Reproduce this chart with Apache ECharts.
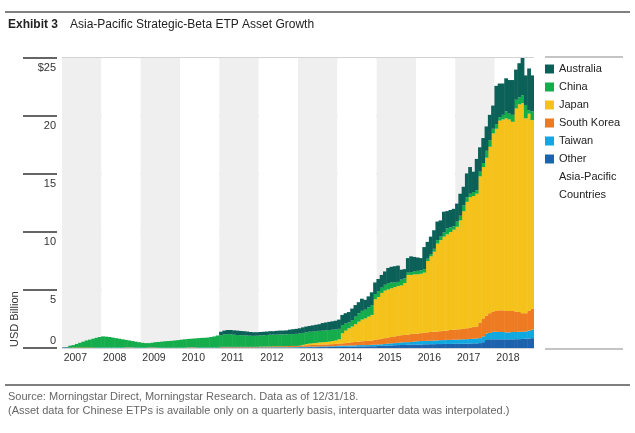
<!DOCTYPE html>
<html><head><meta charset="utf-8">
<script src="https://cdn.jsdelivr.net/npm/echarts@6/dist/echarts.min.js"></script>
<style>html,body{margin:0;padding:0;background:#fff}#c{width:635px;height:433px}</style>
</head><body><div id="c"></div>
<script>
// ---- data ----
const years = ['2007','2008','2009','2010','2011','2012','2013','2014','2015','2016','2017','2018'];
const yTickLabels = ['0','5','10','15','20','$25'];
const legendOrder = ['Australia','China','Japan','South Korea','Taiwan','Other'];

// monthly asset values, USD billion (Jan 2007 .. Dec 2018), one row per year
const other = [
 0.05,0.05,0.04,0,0,0,0,0,0,0,0,0,
 0,0,0,0,0,0,0,0,0,0,0,0,
 0,0,0,0,0,0,0,0,0,0,0,0,
 0,0,0,0.02,0.02,0.02,0.02,0.02,0.02,0.02,0.02,0.02,
 0.03,0.03,0.03,0.03,0.03,0.03,0.03,0.03,0.03,0.03,0.03,0.03,
 0.04,0.04,0.04,0.04,0.04,0.04,0.04,0.04,0.04,0.04,0.04,0.04,
 0.06,0.06,0.06,0.07,0.07,0.07,0.08,0.08,0.08,0.09,0.09,0.09,
 0.1,0.1,0.1,0.12,0.12,0.12,0.14,0.14,0.14,0.15,0.15,0.15,
 0.18,0.2,0.2,0.22,0.22,0.24,0.25,0.26,0.26,0.28,0.28,0.3,
 0.3,0.3,0.32,0.32,0.33,0.33,0.34,0.34,0.35,0.35,0.35,0.36,
 0.36,0.36,0.37,0.38,0.38,0.4,0.4,0.42,0.5,0.75,0.75,0.75,
 0.75,0.75,0.75,0.75,0.75,0.75,0.76,0.76,0.78,0.8,0.82,0.85
];
const taiwan = [
 0,0,0,0,0,0,0,0,0,0,0.04,0.04,
 0.04,0.04,0.04,0.04,0.04,0.04,0.04,0.04,0.04,0.04,0.04,0.04,
 0.03,0.03,0.03,0.03,0.03,0.03,0.03,0.03,0.03,0.03,0.03,0.03,
 0.03,0.03,0.03,0.02,0.02,0.02,0.02,0.02,0.02,0.02,0.02,0.02,
 0.02,0.02,0.02,0.02,0.02,0.02,0.02,0.02,0.02,0.02,0.02,0.02,
 0.02,0.02,0.02,0.02,0.03,0.03,0.03,0.03,0.03,0.03,0.04,0.04,
 0.04,0.04,0.04,0.05,0.05,0.05,0.05,0.06,0.06,0.06,0.06,0.07,
 0.1,0.1,0.1,0.1,0.1,0.1,0.11,0.11,0.11,0.1,0.13,0.13,
 0.12,0.12,0.15,0.16,0.18,0.18,0.2,0.22,0.24,0.22,0.24,0.25,
 0.28,0.3,0.28,0.3,0.29,0.32,0.31,0.34,0.33,0.35,0.35,0.36,
 0.36,0.38,0.38,0.38,0.4,0.4,0.42,0.43,0.5,0.5,0.55,0.65,
 0.65,0.63,0.63,0.6,0.6,0.63,0.62,0.64,0.62,0.62,0.68,0.75
];
const southKorea = [
 0,0,0,0.04,0.04,0.04,0.04,0.04,0.04,0.04,0,0,
 0,0,0,0,0,0,0,0.03,0.03,0.03,0,0,
 0,0,0.03,0.03,0.03,0,0,0,0,0,0,0,
 0,0,0.03,0.03,0.03,0,0,0,0,0,0,0,
 0.05,0.05,0.05,0.05,0.05,0.05,0.05,0.05,0.05,0.05,0.05,0.05,
 0.06,0.06,0.07,0.07,0.08,0.08,0.08,0.09,0.09,0.1,0.1,0.1,
 0.1,0.12,0.14,0.13,0.14,0.15,0.15,0.16,0.16,0.17,0.18,0.19,
 0.18,0.2,0.22,0.23,0.28,0.3,0.3,0.33,0.35,0.37,0.37,0.42,
 0.45,0.48,0.5,0.52,0.55,0.58,0.6,0.62,0.62,0.65,0.68,0.67,
 0.67,0.68,0.7,0.73,0.76,0.75,0.77,0.77,0.8,0.8,0.85,0.86,
 0.88,0.88,0.9,0.94,0.97,1.0,1.03,1.35,1.55,1.55,1.7,1.75,
 1.8,1.87,1.87,1.85,1.85,1.82,1.77,1.7,1.6,1.58,1.7,1.8
];
const japan = [
 0,0,0,0,0,0,0,0,0,0,0,0,
 0,0,0,0,0,0,0,0,0,0,0,0,
 0,0,0,0,0,0,0,0,0,0,0,0,
 0,0,0,0,0,0,0,0,0,0,0,0,
 0,0,0,0,0,0,0,0,0,0,0,0,
 0,0,0,0,0,0,0,0,0,0,0,0,
 0,0.05,0.1,0.13,0.15,0.17,0.2,0.2,0.22,0.23,0.27,0.3,
 0.37,0.87,1.08,1.25,1.35,1.53,1.72,1.87,1.95,2.08,2.2,3.5,
 3.65,3.95,4.1,4.15,4.2,4.25,4.3,4.3,4.48,5.15,5.1,5.13,
 5.1,5.12,5.2,6.15,6.52,6.9,7.58,7.85,8.12,8.3,8.45,8.62,
 8.85,9.38,10.15,10.9,11.25,11.3,11.45,12.6,13.05,13.6,14.35,15.35,
 15.7,16.35,16.45,16.6,16.5,16.3,17.5,17.9,18.1,16.8,17.0,16.25
];
const china = [
 0,0.03,0.16,0.21,0.31,0.41,0.51,0.61,0.68,0.76,0.84,0.91,
 0.96,0.94,0.91,0.86,0.81,0.76,0.71,0.63,0.58,0.53,0.51,0.46,
 0.42,0.39,0.36,0.39,0.44,0.49,0.52,0.55,0.57,0.59,0.62,0.65,
 0.69,0.72,0.72,0.73,0.75,0.81,0.83,0.84,0.86,0.91,0.96,1.04,
 1.0,1.08,1.1,1.08,1.05,1.02,1.0,1.0,0.98,0.96,0.95,0.96,
 0.96,0.98,0.99,1.02,1.0,1.0,1.02,1.01,1.02,1.03,1.02,1.04,
 1.05,1.03,1.01,1.02,1.01,1.01,1.0,1.0,1.0,1.0,0.98,0.95,
 0.9,0.71,0.6,0.5,0.55,0.65,0.73,0.75,0.75,0.8,0.85,0.45,
 0.5,0.45,0.5,0.55,0.5,0.4,0.35,0.5,0.4,0.2,0.25,0.25,
 0.3,0.3,0.3,0.2,0.2,0.25,0.3,0.3,0.35,0.5,0.4,0.3,
 0.45,0.4,0.5,0.4,0.3,0.35,0.3,0.4,0.35,0.6,0.55,0.4,
 0.4,0.3,0.4,0.6,0.5,0.6,0.75,0.6,0.7,1.15,0.3,0.75
];
const australia = [
 0,0,0,0,0,0,0,0,0,0,0,0,
 0,0,0,0,0,0,0,0,0,0,0,0,
 0,0,0,0,0,0,0,0,0,0,0,0,
 0,0,0,0,0,0,0,0,0,0,0,0,
 0.3,0.32,0.35,0.37,0.37,0.38,0.37,0.35,0.34,0.32,0.31,0.3,
 0.3,0.3,0.3,0.3,0.3,0.33,0.33,0.33,0.34,0.38,0.42,0.43,
 0.45,0.48,0.5,0.5,0.53,0.55,0.57,0.65,0.68,0.7,0.72,0.75,
 0.8,0.87,0.9,0.9,1.0,1.0,0.95,1.05,0.85,0.95,1.1,1.0,
 1.05,1.1,1.15,1.3,1.35,1.4,1.4,0.85,0.8,1.25,1.35,1.25,
 1.15,1.05,1.9,1.45,1.5,1.6,1.6,1.4,1.8,1.5,1.5,1.5,
 1.55,1.9,1.6,2.05,2.3,1.75,2.7,2.1,2.15,2.1,2.2,2.0,
 3.3,2.9,2.7,2.85,2.9,3.0,2.6,2.95,3.2,2.55,3.6,3.1
];

// ---- chart ----
const F = "'Liberation Sans', Arial, sans-serif";
const months = [];
years.forEach(y => { for (let m = 1; m <= 12; m++) months.push(y + '-' + (m < 10 ? '0' + m : m)); });

const stackSeries = [
  ['Other', other, '#1d62ad'],
  ['Taiwan', taiwan, '#10a8e0'],
  ['South Korea', southKorea, '#ee7a22'],
  ['Japan', japan, '#f4c21a'],
  ['China', china, '#15ad4c'],
  ['Australia', australia, '#0b6058']
];

const chart = echarts.init(document.getElementById('c'), null, {renderer: 'canvas'});
chart.setOption({
  animation: false,
  backgroundColor: '#fff',
  textStyle: {fontFamily: F},
  grid: {left: 62, right: 101, top: 58, bottom: 85, containLabel: false},
  legend: {
    data: legendOrder, orient: 'vertical', left: 545, top: 62, padding: 0,
    itemWidth: 9, itemHeight: 9, itemGap: 4, icon: 'rect',
    textStyle: {fontFamily: F, fontSize: 11, color: '#222', lineHeight: 14},
    selectedMode: false
  },
  xAxis: {
    type: 'category', data: months, boundaryGap: true,
    axisLine: {show: false}, axisTick: {show: false},
    axisLabel: {
      interval: (i) => i % 12 === 0,
      formatter: (v) => v.slice(0, 4),
      align: 'left', margin: 5,
      fontFamily: F, fontSize: 10.5, color: '#333'
    },
    splitLine: {show: false},
    splitArea: {show: true, interval: (i) => i % 12 === 0, areaStyle: {color: ['#efefef', '#ffffff']}}
  },
  yAxis: [{
    type: 'value', min: 0, max: 25, interval: 5, position: 'left', offset: 5,
    axisLine: {show: false},
    axisTick: {show: true, length: 34, lineStyle: {color: '#333', width: 1.5}},
    axisLabel: {
      formatter: (v) => v === 0 ? '' : yTickLabels[Math.round(v / 5)],
      verticalAlign: 'top', padding: [4, 0, 0, 0], margin: 1,
      fontFamily: F, fontSize: 11, color: '#333'
    },
    splitLine: {show: true, lineStyle: {color: '#c4c4c4', width: 1.5}}
  }, {
    type: 'value', min: 0, max: 25, interval: 5, position: 'left', offset: 5,
    axisLine: {show: false}, axisTick: {show: false}, splitLine: {show: false},
    axisLabel: {
      formatter: (v) => v === 0 ? yTickLabels[0] : '',
      verticalAlign: 'bottom', padding: [0, 0, 2, 0], margin: 1,
      fontFamily: F, fontSize: 11, color: '#333'
    }
  }],
  series: stackSeries.map(([name, data, color]) => ({
    name, type: 'bar', stack: 'total', data, yAxisIndex: 0,
    barWidth: '115%',
    itemStyle: {color},
    emphasis: {disabled: true}
  })),
  graphic: [
    {type: 'line', shape: {x1: 5, y1: 12, x2: 630, y2: 12}, style: {stroke: '#808080', lineWidth: 2}},
    {type: 'text', left: 8, top: 19, style: {text: 'Exhibit 3', font: 'bold 12px ' + F, fill: '#222'}},
    {type: 'text', left: 70, top: 19, style: {text: 'Asia-Pacific Strategic-Beta ETP Asset Growth', font: '12px ' + F, fill: '#222'}},
    {type: 'line', shape: {x1: 545, y1: 57, x2: 623, y2: 57}, style: {stroke: '#b0b0b0', lineWidth: 1.5}},
    {type: 'line', shape: {x1: 545, y1: 349, x2: 623, y2: 349}, style: {stroke: '#b0b0b0', lineWidth: 1.5}},
    {type: 'text', left: 559, top: 168, style: {text: 'Asia-Pacific\nCountries', font: '11px ' + F, fill: '#222', lineHeight: 18}},
    {type: 'text', x: 15, y: 347, rotation: Math.PI / 2, style: {text: 'USD Billion', font: '11px ' + F, fill: '#333', textAlign: 'left', textVerticalAlign: 'middle'}},
    {type: 'line', shape: {x1: 5, y1: 385, x2: 630, y2: 385}, style: {stroke: '#555', lineWidth: 1.5}},
    {type: 'text', left: 8, top: 391, style: {text: 'Source: Morningstar Direct, Morningstar Research. Data as of 12/31/18.', font: '11px ' + F, fill: '#666'}},
    {type: 'text', left: 8, top: 405, style: {text: '(Asset data for Chinese ETPs is available only on a quarterly basis, interquarter data was interpolated.)', font: '11px ' + F, fill: '#666'}}
  ]
});
</script>
</body></html>
